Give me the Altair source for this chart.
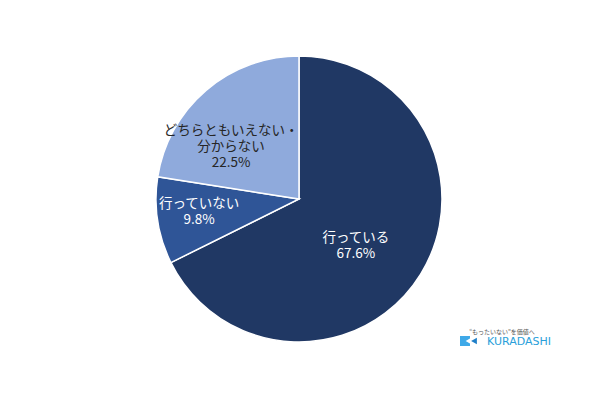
import altair as alt
import pandas as pd

categories = ["行っている", "行っていない", "どちらともいえない・分からない"]
values = [67.6, 9.8, 22.5]
label_lines = ["行っている\n67.6%", "行っていない\n9.8%", "どちらともいえない・\n分からない\n22.5%"]
colors = ["#203864", "#2F5597", "#8FAADC"]
text_colors = ["#FFFFFF", "#FFFFFF", "#262626"]

df = pd.DataFrame({
    "category": categories,
    "value": values,
    "label": label_lines,
    "order": list(range(len(categories))),
})

base = alt.Chart(df)

arcs = base.mark_arc(outerRadius=143, stroke="white", strokeWidth=1.5).encode(
    theta=alt.Theta("value:Q", stack=True),
    order=alt.Order("order:Q"),
    color=alt.Color("category:N", scale=alt.Scale(domain=categories, range=colors), legend=None),
)

# per-label placement (radius, dx, dy)
placements = [(74, -6, 0), (101, 0, -10), (86, -12, -3)]

text_layers = []
for cat, tc, (r, dx, dy) in zip(categories, text_colors, placements):
    t = base.transform_calculate(
        lab=f"datum.category === '{cat}' ? datum.label : ''"
    ).mark_text(
        radius=r, dx=dx, dy=dy, fontSize=13.5, lineHeight=16, lineBreak="\n",
        font="Noto Sans CJK JP", color=tc, align="center", baseline="middle",
    ).encode(
        theta=alt.Theta("value:Q", stack=True),
        order=alt.Order("order:Q"),
        text="lab:N",
    )
    text_layers.append(t)

logo_small = alt.Chart(pd.DataFrame({"t": ["“もったいない”を価値へ"]})).mark_text(
    fontSize=6, color="#555555", font="Noto Sans CJK JP", align="center", baseline="middle"
).encode(x=alt.value(494), y=alt.value(324), text="t:N")

logo_big = alt.Chart(pd.DataFrame({"t": ["KURADASHI"]})).mark_text(
    fontSize=11, color="#2A9FDA", font="DejaVu Sans",
    align="left", baseline="middle"
).encode(x=alt.value(479), y=alt.value(334), text="t:N")

logo_sq = alt.Chart(pd.DataFrame({"t": ["a"]})).mark_square(
    size=100, color="#3FA9E8", opacity=1
).encode(x=alt.value(457), y=alt.value(333))

logo_notch = alt.Chart(pd.DataFrame({"t": ["a"]})).mark_point(
    shape="triangle-left", size=30, filled=True, color="white", opacity=1
).encode(x=alt.value(460), y=alt.value(333))

logo_tri = alt.Chart(pd.DataFrame({"t": ["a"]})).mark_point(
    shape="triangle-left", size=45, filled=True, color="#1F7FC8", opacity=1
).encode(x=alt.value(466), y=alt.value(333))

chart = alt.layer(arcs, *text_layers, logo_sq, logo_notch, logo_tri, logo_small, logo_big).properties(
    width=582, height=382, padding=0, autosize=alt.AutoSizeParams(type="none")
).configure_view(stroke=None)

chart.save("out.html", embed_options={"renderer": "svg", "actions": False})
